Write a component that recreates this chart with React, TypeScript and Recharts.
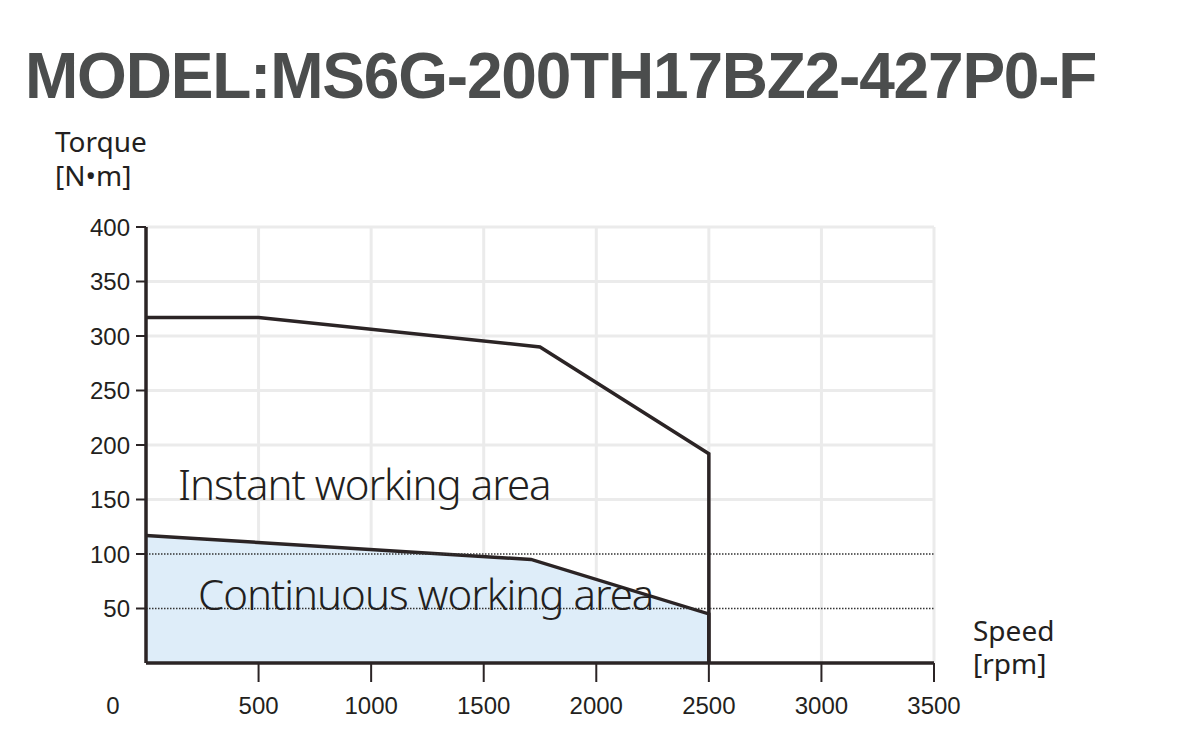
import {
  ComposedChart, Line, Area, XAxis, YAxis, CartesianGrid, ReferenceLine,
} from 'recharts'

const INK = '#2b2425'
const GRID = '#ebebeb'
const FILL = '#deedf9'

// speed [rpm] / torque [N·m]
const INSTANT = [
  { speed: 0, torque: 317 },
  { speed: 500, torque: 317 },
  { speed: 1750, torque: 290 },
  { speed: 2500, torque: 192 },
  { speed: 2500, torque: 0 },
]

const CONTINUOUS = [
  { speed: 0, torque: 117 },
  { speed: 1710, torque: 95 },
  { speed: 2500, torque: 45 },
  { speed: 2500, torque: 0 },
]

const X_TICKS = [0, 500, 1000, 1500, 2000, 2500, 3000, 3500]
const Y_TICKS = [50, 100, 150, 200, 250, 300, 350, 400]
const GRID_X = [500, 1000, 1500, 2000, 2500, 3000, 3500]
const GRID_Y = [150, 200, 250, 300, 350, 400]
const DOTTED_Y = [100, 50]

const TICK_FONT = "'Liberation Sans', Arial, sans-serif"
const LABEL_FONT = "'Noto Sans', 'Open Sans', sans-serif"

function XTick({ x, y, payload }: any) {
  const v = payload.value
  return (
    <g>
      {v !== 0 && (
        <line x1={x} x2={x} y1={y - 34} y2={y - 15} stroke={INK} strokeWidth={2} />
      )}
      <text
        x={v === 0 ? x - 33 : x} y={y} dy="0.71em" textAnchor="middle"
        fontFamily={TICK_FONT} fontSize={24} fill="#231f20"
      >
        {v}
      </text>
    </g>
  )
}

export default function App() {
  return (
    <div style={{ position: 'absolute', left: 0, top: 0, width: 1192, height: 746, background: '#fff' }}>
      <ComposedChart
        width={1192} height={746}
        margin={{ top: 227, right: 258, bottom: 0, left: 86 }}
      >
        <CartesianGrid
          stroke={GRID} strokeWidth={3}
          horizontalValues={GRID_Y} verticalValues={GRID_X}
        />
        <XAxis
          dataKey="speed" type="number" domain={[0, 3500]} ticks={X_TICKS}
          height={83} tickLine={false} tickSize={19} tickMargin={15}
          axisLine={{ stroke: INK, strokeWidth: 3.5 }}
          tick={<XTick />} allowDuplicatedCategory
        />
        <YAxis
          type="number" domain={[0, 400]} ticks={Y_TICKS} width={60}
          tickSize={10} tickMargin={6}
          tickLine={{ stroke: INK, strokeWidth: 2 }}
          axisLine={{ stroke: INK, strokeWidth: 3.5 }}
          tick={{ fontFamily: TICK_FONT, fontSize: 24, fill: '#231f20' }}
        />
        <Area
          data={CONTINUOUS} dataKey="torque" type="linear" baseValue={0}
          fill={FILL} fillOpacity={1} stroke={INK} strokeWidth={3.5}
          isAnimationActive={false}
        />
        <Line
          data={INSTANT} dataKey="torque" type="linear" dot={false}
          stroke={INK} strokeWidth={3.5} isAnimationActive={false}
        />
        {DOTTED_Y.map(v => (
          <ReferenceLine key={v} y={v} stroke="#333" strokeWidth={1.5} strokeDasharray="1.5 1.5" />
        ))}
      </ComposedChart>

      <svg
        width={1192} height={746}
        style={{ position: 'absolute', left: 0, top: 0, pointerEvents: 'none' }}
      >
        <text
          x={25} y={98} fontFamily={TICK_FONT} fontWeight={700} fontSize={64}
          letterSpacing={-1.2} fill="#4b4d4d"
        >
          MODEL:MS6G-200TH17BZ2-427P0-F
        </text>
        <text fontFamily={LABEL_FONT} fontSize={28} fill="#231f20">
          <tspan x={55} y={152}>Torque</tspan>
          <tspan x={55} y={186}>[N•m]</tspan>
          <tspan x={973} y={641}>Speed</tspan>
          <tspan x={973} y={674}>[rpm]</tspan>
        </text>
        <text fontFamily={LABEL_FONT} fontWeight={300} fontSize={42} letterSpacing={-1} fill="#231f20">
          <tspan x={178} y={500}>Instant working area</tspan>
          <tspan x={198} y={610}>Continuous working area</tspan>
        </text>
      </svg>
    </div>
  )
}
